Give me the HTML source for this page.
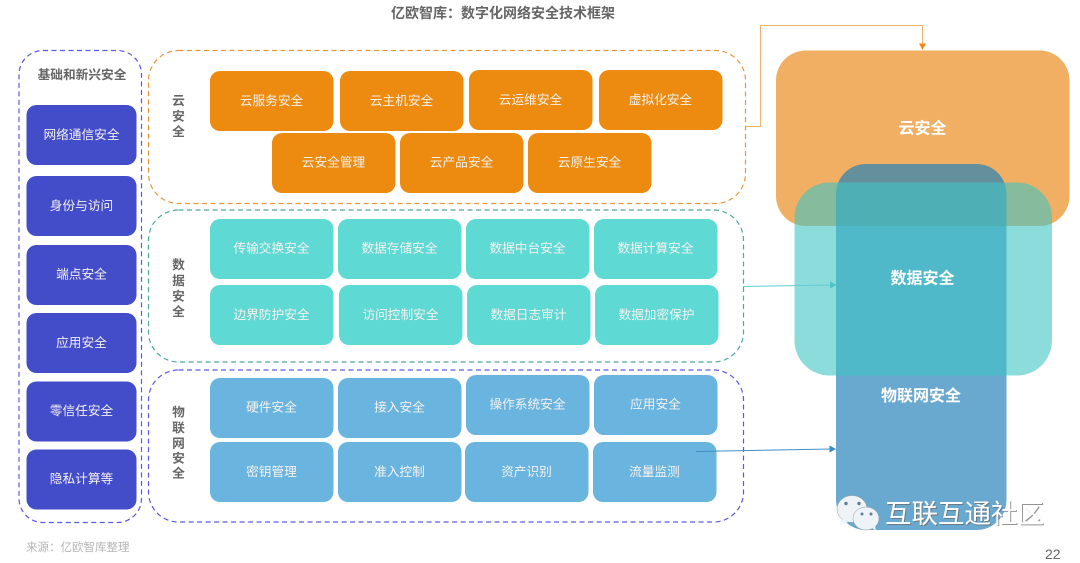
<!DOCTYPE html>
<html lang="zh">
<head>
<meta charset="utf-8">
<title>数字化网络安全技术框架</title>
<style>
html,body{margin:0;padding:0;background:#fff;width:1080px;height:563px;overflow:hidden}
svg{display:block}
text{font-family:"Liberation Sans","Noto Sans CJK SC",sans-serif}
.b text{font-size:12.7px;fill:#f4f1ee;text-anchor:middle;dominant-baseline:central}
.l{font-size:12.7px;font-weight:700;fill:#666;text-anchor:middle;dominant-baseline:central}
.r{font-size:16px;font-weight:700;fill:#fff;text-anchor:middle;dominant-baseline:central}
</style>
</head>
<body>
<svg width="1080" height="563" viewBox="0 0 1080 563" xmlns="http://www.w3.org/2000/svg">
<rect width="1080" height="563" fill="#fff"/>
<text x="503" y="13" font-size="14" font-weight="700" fill="#666" text-anchor="middle" dominant-baseline="central">亿欧智库：数字化网络安全技术框架</text>

<!-- panels -->
<g fill="none" stroke-width="1.2" stroke-dasharray="5 3.5">
<rect x="19" y="50.5" width="122.5" height="472" rx="24" stroke="#5a5ae0"/>
<rect x="148.5" y="50.5" width="597" height="153" rx="30" stroke="#e8963c"/>
<rect x="148.5" y="210" width="595" height="152" rx="30" stroke="#4fa89f"/>
<rect x="148.5" y="370" width="595" height="152" rx="30" stroke="#5a5ae0"/>
</g>

<text class="l" x="82" y="75">基础和新兴安全</text>
<g>
<text class="l" x="178.500" y="101">云</text><text class="l" x="178.500" y="116.500">安</text><text class="l" x="178.500" y="132">全</text>
<text class="l" x="178.500" y="265">数</text><text class="l" x="178.500" y="281">据</text><text class="l" x="178.500" y="296.500">安</text><text class="l" x="178.500" y="312">全</text>
<text class="l" x="178.500" y="412.500">物</text><text class="l" x="178.500" y="428">联</text><text class="l" x="178.500" y="443.500">网</text><text class="l" x="178.500" y="458.500">安</text><text class="l" x="178.500" y="473.500">全</text>
</g>

<!-- left -->
<g class="b" fill="#444dc9">
<rect x="26.500" y="105" width="110" height="60" rx="10"/><text x="81.500" y="135">网络通信安全</text>
<rect x="26.500" y="176" width="110" height="60" rx="10"/><text x="81.500" y="206">身份与访问</text>
<rect x="26.500" y="245" width="110" height="60" rx="10"/><text x="81.500" y="274.500">端点安全</text>
<rect x="26.500" y="313" width="110" height="60" rx="10"/><text x="81.500" y="343">应用安全</text>
<rect x="26.500" y="381.500" width="110" height="60" rx="10"/><text x="81.500" y="411">零信任安全</text>
<rect x="26.500" y="449.500" width="110" height="60" rx="10"/><text x="81.500" y="479">隐私计算等</text>
</g>

<!-- cloud -->
<g class="b" fill="#ec8b0f">
<rect x="210" y="71" width="123.500" height="60" rx="10"/><text x="271.500" y="101">云服务安全</text>
<rect x="340" y="71" width="123.500" height="60" rx="10"/><text x="401.500" y="101">云主机安全</text>
<rect x="469" y="70" width="123.500" height="60" rx="10"/><text x="530.500" y="100">云运维安全</text>
<rect x="599" y="70" width="123.500" height="60" rx="10"/><text x="660.500" y="100">虚拟化安全</text>
<rect x="272" y="133" width="123.500" height="60" rx="10"/><text x="333.500" y="162.500">云安全管理</text>
<rect x="400" y="133" width="123.500" height="60" rx="10"/><text x="461.500" y="162.500">云产品安全</text>
<rect x="528" y="133" width="123.500" height="60" rx="10"/><text x="589.500" y="162.500">云原生安全</text>
</g>

<!-- data -->
<g class="b" fill="#5fd9d4">
<rect x="210" y="219" width="123.500" height="60" rx="10"/><text x="271.500" y="248.500">传输交换安全</text>
<rect x="338" y="219" width="123.500" height="60" rx="10"/><text x="399.500" y="248.500">数据存储安全</text>
<rect x="466" y="219" width="123.500" height="60" rx="10"/><text x="527.500" y="248.500">数据中台安全</text>
<rect x="594" y="219" width="123.500" height="60" rx="10"/><text x="655.500" y="248.500">数据计算安全</text>
<rect x="210" y="285" width="123.500" height="60" rx="10"/><text x="271.500" y="315">边界防护安全</text>
<rect x="339" y="285" width="123.500" height="60" rx="10"/><text x="400.500" y="315">访问控制安全</text>
<rect x="467" y="285" width="123.500" height="60" rx="10"/><text x="528.500" y="315">数据日志审计</text>
<rect x="595" y="285" width="123.500" height="60" rx="10"/><text x="656.500" y="315">数据加密保护</text>
</g>

<!-- iot -->
<g class="b" fill="#6ab5df">
<rect x="210" y="378" width="123.500" height="60" rx="10"/><text x="271.500" y="407.500">硬件安全</text>
<rect x="338" y="378" width="123.500" height="60" rx="10"/><text x="399.500" y="407.500">接入安全</text>
<rect x="466" y="375" width="123.500" height="60" rx="10"/><text x="527.500" y="404.500">操作系统安全</text>
<rect x="594" y="375" width="123.500" height="60" rx="10"/><text x="655.500" y="404.500">应用安全</text>
<rect x="210" y="442" width="123.500" height="60" rx="10"/><text x="271.500" y="472">密钥管理</text>
<rect x="338" y="442" width="123.500" height="60" rx="10"/><text x="399.500" y="472">准入控制</text>
<rect x="465" y="442" width="123.500" height="60" rx="10"/><text x="526.500" y="472">资产识别</text>
<rect x="593" y="442" width="123.500" height="60" rx="10"/><text x="654.500" y="472">流量监测</text>
</g>

<!-- right -->
<rect x="776" y="50.500" width="293.500" height="175.500" rx="30" fill="#f0af63"/>
<rect x="836" y="164" width="170.500" height="366" rx="30" fill="#2280b8" fill-opacity=".68"/>
<rect x="794.500" y="182.500" width="257.500" height="193" rx="35" fill="#3fc5c5" fill-opacity=".6"/>
<text class="r" x="922.500" y="129">云安全</text>
<text class="r" x="922.500" y="279">数据安全</text>
<text class="r" x="921" y="396.500">物联网安全</text>

<!-- connectors -->
<path d="M746 126.500H760.500V25.500H922.500V44" fill="none" stroke="#f0b26c" stroke-width="1"/>
<path d="M919 43.500H926L922.500 50Z" fill="#ee8a12"/>
<path d="M743 286.500L832 285" fill="none" stroke="#5fcfd0" stroke-width="1"/>
<path d="M830 281.500L836.500 285L830 288.500Z" fill="#4cc4c6"/>
<path d="M696 451.500L832 449" fill="none" stroke="#3f8fc4" stroke-width="1"/>
<path d="M829.500 445.500L836 449L829.500 452.500Z" fill="#3a8cc2"/>

<!-- watermark -->
<g>
<ellipse cx="852" cy="509" rx="15" ry="13.500" fill="#eef3f8" stroke="#8a9aa5" stroke-width=".5"/>
<path d="M842 519l-2 6 8-3z" fill="#eef3f8"/>
<circle cx="846" cy="503.500" r="1.700" fill="#5f7f95"/><circle cx="859" cy="503.500" r="1.700" fill="#5f7f95"/>
<ellipse cx="866" cy="518.500" rx="13" ry="11.500" fill="#eef3f8" stroke="#8a9aa5" stroke-width=".5"/>
<path d="M871 527l5 4-1-6z" fill="#eef3f8"/>
<circle cx="862" cy="514" r="1.500" fill="#5f7f95"/><circle cx="871" cy="514" r="1.500" fill="#5f7f95"/>
</g>
<text x="886" y="515" font-size="26.500" fill="#666" fill-opacity=".7" dominant-baseline="central">互联互通社区</text>
<text x="885" y="514" font-size="26.500" fill="#fff" dominant-baseline="central">互联互通社区</text>

<text x="26" y="548" font-size="11.500" fill="#b5b5b5" dominant-baseline="central">来源：亿欧智库整理</text>
<text x="1045" y="554" font-size="14" fill="#666" dominant-baseline="central">22</text>
</svg>
</body>
</html>
